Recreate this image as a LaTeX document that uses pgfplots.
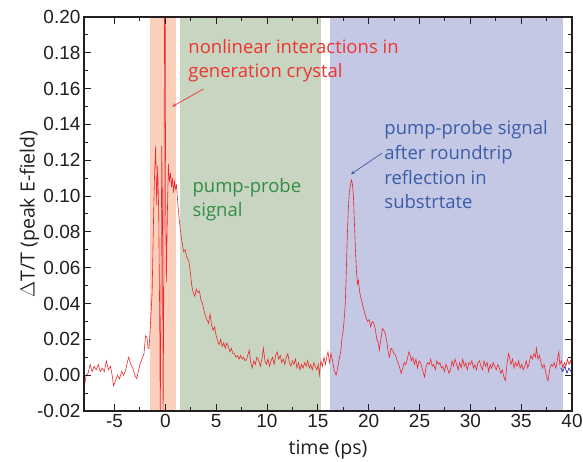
\documentclass[border=0pt]{standalone}
\usepackage{pgfplots}
\pgfplotsset{compat=1.18}
\usepackage{fontspec}
\setmainfont{Liberation Sans}
\newfontfamily\lab{Open Sans}
\definecolor{sigred}{RGB}{236,40,44}
\definecolor{shorange}{RGB}{250,207,188}
\definecolor{shgreen}{RGB}{200,213,193}
\definecolor{shblue}{RGB}{197,200,229}
\definecolor{txtred}{RGB}{238,52,48}
\definecolor{txtgreen}{RGB}{52,140,70}
\definecolor{txtblue}{RGB}{58,92,170}
\definecolor{axcol}{RGB}{35,31,32}
\begin{document}
\begin{tikzpicture}
\begin{axis}[
  at={(0,0)}, anchor=south west,
  scale only axis, width=488pt, height=394pt,
  xmin=-8, xmax=40, ymin=-0.02, ymax=0.2,
  xtick={-5,0,5,10,15,20,25,30,35,40},
  ytick={-0.02,0,0.02,0.04,0.06,0.08,0.10,0.12,0.14,0.16,0.18,0.20},
  minor x tick num=1, minor y tick num=1,
  tick align=inside,
  major tick length=7pt, minor tick length=4pt,
  every tick/.style={axcol, line width=1pt},
  axis line style={axcol, line width=1.3pt},
  axis on top=true,
  /pgf/number format/assume math mode=true,
  tick label style={font=\fontsize{19}{22}\selectfont, text=axcol},
  yticklabel style={/pgf/number format/.cd, fixed, fixed zerofill, precision=2},
  xlabel={time (ps)}, ylabel={$\Delta$T/T (peak E-field)},
  label style={font=\lab\fontsize{19.5}{22}\selectfont, text=axcol},
  xlabel style={yshift=-5pt},
  ylabel style={yshift=-9pt},
]
\addplot[draw=none, fill=shorange] coordinates {(-1.5,-0.02) (1,-0.02) (1,0.2) (-1.5,0.2)} -- cycle;
\addplot[draw=none, fill=shgreen] coordinates {(1.4,-0.02) (15.3,-0.02) (15.3,0.2) (1.4,0.2)} -- cycle;
\addplot[draw=none, fill=shblue] coordinates {(16.2,-0.02) (39.1,-0.02) (39.1,0.2) (16.2,0.2)} -- cycle;
\addplot[color=blue!60!black, line width=0.5pt] coordinates {
(38.9,0.004) (39.1,0.002) (39.3,0.005) (39.5,0.001) (39.7,0.004) (39.9,0.002) (40,0.003)};
\addplot[color=sigred, line width=0.6pt] coordinates {
(-8.0,-0.010) (-7.9,-0.004) (-7.8,0.000) (-7.6,0.001) (-7.4,0.006) (-7.2,0.002) (-7.0,0.005)
(-6.8,0.003) (-6.6,0.006) (-6.4,0.002) (-6.2,0.004) (-6.0,0.002) (-5.8,0.008) (-5.6,0.003)
(-5.4,0.005) (-5.2,-0.001) (-5.1,-0.006) (-4.9,-0.003) (-4.7,0.000) (-4.5,-0.002) (-4.3,0.002)
(-4.1,0.000) (-3.9,0.003) (-3.7,0.008) (-3.6,0.010) (-3.4,0.006) (-3.2,0.004) (-3.0,0.000)
(-2.8,-0.002) (-2.7,0.001) (-2.5,0.006) (-2.3,0.009) (-2.1,0.012) (-1.95,0.022) (-1.8,0.021)
(-1.7,0.015) (-1.6,0.015) (-1.45,0.03) (-1.3,0.046) (-1.15,0.09) (-1.05,0.114) (-0.95,0.128)
(-0.85,0.095) (-0.75,0.117) (-0.65,0.09) (-0.55,0.03) (-0.5,-0.025) (-0.45,0.02) (-0.35,0.128)
(-0.28,0.09) (-0.22,-0.025) (-0.15,0.05) (-0.08,0.21) (-0.02,0.21) (0.03,0.10) (0.1,0.052)
(0.2,0.09) (0.3,0.118) (0.4,0.108) (0.5,0.113) (0.6,0.105) (0.7,0.110) (0.8,0.102) (0.9,0.108)
(1.0,0.104) (1.1,0.106)
(1.2,0.098) (1.35,0.088) (1.5,0.080) (1.65,0.074) (1.8,0.069) (1.95,0.070) (2.1,0.066)
(2.3,0.064) (2.45,0.058) (2.6,0.050) (2.75,0.046) (2.9,0.044) (3.05,0.048) (3.2,0.046)
(3.35,0.047) (3.5,0.042) (3.65,0.040) (3.8,0.036) (3.95,0.033) (4.1,0.031) (4.25,0.029)
(4.4,0.034) (4.55,0.028) (4.7,0.025) (4.85,0.027) (5.0,0.022) (5.15,0.019) (5.3,0.017)
(5.45,0.020) (5.6,0.016) (5.75,0.018) (5.9,0.015) (6.05,0.018) (6.2,0.016) (6.35,0.013)
(6.5,0.015) (6.65,0.012) (6.8,0.012) (6.95,0.010) (7.1,0.011) (7.25,0.009) (7.4,0.011)
(7.55,0.009) (7.7,0.010) (7.85,0.008) (8.0,0.009) (8.15,0.012) (8.25,0.014) (8.4,0.007)
(8.55,0.004) (8.7,0.008) (8.85,0.006) (9.0,0.010) (9.2,0.008)
(9.35,0.005) (9.5,0.009) (9.65,0.015) (9.8,0.008) (9.95,0.006) (10.1,0.009) (10.25,0.005)
(10.4,0.008) (10.55,0.010) (10.7,0.006) (10.85,0.011) (11.0,0.013) (11.15,0.009) (11.3,0.011)
(11.45,0.007) (11.6,0.009) (11.75,0.006) (11.9,0.010) (12.05,0.012) (12.2,0.007) (12.35,0.005)
(12.5,0.008) (12.65,0.006) (12.8,0.009) (12.95,0.004) (13.1,0.007) (13.25,0.003) (13.4,0.006)
(13.55,0.004) (13.7,0.007) (13.85,0.005) (14.0,0.008) (14.15,0.004) (14.3,0.006) (14.45,0.003)
(14.6,0.007) (14.75,0.005) (14.9,0.003) (15.05,0.006) (15.15,0.000) (15.3,0.008) (15.45,0.005)
(15.6,0.010) (15.75,0.006) (15.9,0.011) (16.0,0.013) (16.15,0.007) (16.3,0.012) (16.45,0.008)
(16.6,0.003) (16.8,0.000) (16.95,0.004) (17.1,0.009) (17.25,0.013) (17.4,0.022) (17.5,0.025)
(17.6,0.032) (17.7,0.040) (17.8,0.058) (17.9,0.078) (18.0,0.093) (18.1,0.102) (18.2,0.106)
(18.3,0.109) (18.4,0.107) (18.5,0.100) (18.6,0.085) (18.7,0.070) (18.8,0.058) (18.9,0.051)
(19.0,0.053) (19.1,0.047) (19.2,0.044) (19.3,0.042) (19.45,0.038) (19.6,0.035) (19.75,0.032)
(19.9,0.030) (20.05,0.031) (20.2,0.027) (20.35,0.030) (20.5,0.029) (20.65,0.026) (20.8,0.020)
(20.95,0.018) (21.05,0.014) (21.2,0.020) (21.35,0.026) (21.5,0.025) (21.65,0.023) (21.8,0.018)
(21.95,0.012) (22.05,0.010) (22.2,0.015) (22.35,0.014) (22.5,0.012) (22.65,0.011) (22.8,0.008)
(22.95,0.006) (23.1,0.003) (23.2,0.001) (23.35,0.004) (23.5,0.007) (23.65,0.006) (23.8,0.009)
(23.95,0.013) (24.05,0.012) (24.2,0.008) (24.35,0.010) (24.5,0.006) (24.65,0.009) (24.8,0.004)
(24.95,0.008) (25.1,0.007) (25.25,0.004) (25.4,0.001) (25.5,-0.001) (25.65,0.005) (25.8,0.007)
(25.95,0.006) (26.1,0.009) (26.25,0.005) (26.4,0.006) (26.55,0.003) (26.7,0.008) (26.85,0.006)
(27.0,0.007) (27.15,0.004) (27.3,0.005) (27.45,0.002) (27.6,0.006) (27.75,0.004) (27.9,0.001)
(28.05,0.003) (28.2,0.008) (28.35,0.005) (28.5,0.009) (28.65,0.006) (28.8,0.003) (28.95,0.007)
(29.1,0.004) (29.25,0.009) (29.4,0.005) (29.55,0.007) (29.7,0.003) (29.85,0.007) (30.0,0.006)
(30.15,0.008) (30.3,0.004) (30.45,0.006) (30.6,0.003) (30.75,0.007) (30.9,0.008) (31.05,0.005)
(31.2,0.003) (31.35,0.008) (31.5,0.005) (31.65,0.007) (31.8,0.002) (31.95,0.006) (32.1,0.004)
(32.25,0.007) (32.4,0.005) (32.55,0.003) (32.7,0.006) (32.85,0.004) (33.0,0.001) (33.15,0.003)
(33.3,-0.001) (33.45,-0.003) (33.6,0.006) (33.75,0.012) (33.85,0.010) (34.0,0.006) (34.15,0.009)
(34.3,0.004) (34.45,0.007) (34.6,0.005) (34.75,0.008) (34.9,0.004) (35.05,0.006) (35.2,0.003)
(35.35,0.005) (35.5,0.008) (35.65,0.004) (35.8,0.007) (35.95,0.011) (36.1,0.009) (36.25,0.012)
(36.4,0.010) (36.5,0.015) (36.65,0.009) (36.8,0.011) (36.95,0.007) (37.1,0.004) (37.25,0.006)
(37.4,0.002) (37.55,-0.002) (37.65,-0.003) (37.8,0.003) (37.95,0.006) (38.1,0.005) (38.25,0.007)
(38.4,0.004) (38.55,0.008) (38.7,0.013) (38.8,0.006) (38.95,0.008) (39.1,0.004) (39.25,0.007)
(39.4,0.005) (39.55,0.009) (39.7,0.006) (39.85,0.008) (40.0,0.005)};
\draw[txtred, line width=0.7pt, -stealth] (axis cs:3.75,0.1598) -- (axis cs:0.69,0.150);
\draw[txtblue, line width=0.7pt, -stealth] (axis cs:21.33,0.124) -- (axis cs:18.27,0.1123);
\node[anchor=west, align=left, text=txtred, font=\lab\fontsize{18.5}{24.5}\selectfont, inner sep=0pt]
  at (axis cs:2.25,0.1757) {nonlinear interactions in\\generation crystal};
\node[anchor=west, align=left, text=txtgreen, font=\lab\fontsize{18.5}{24}\selectfont, inner sep=0pt]
  at (axis cs:2.66,0.0978) {pump-probe\\signal};
\node[anchor=west, align=left, text=txtblue, font=\lab\fontsize{18.5}{24.7}\selectfont, inner sep=0pt]
  at (axis cs:21.53,0.1175) {pump-probe signal\\after roundtrip\\reflection in\\substrtate};
\end{axis}
\pgfresetboundingbox
\path[use as bounding box] (-84pt,-51pt) rectangle (499pt,411pt);
\end{tikzpicture}
\end{document}
